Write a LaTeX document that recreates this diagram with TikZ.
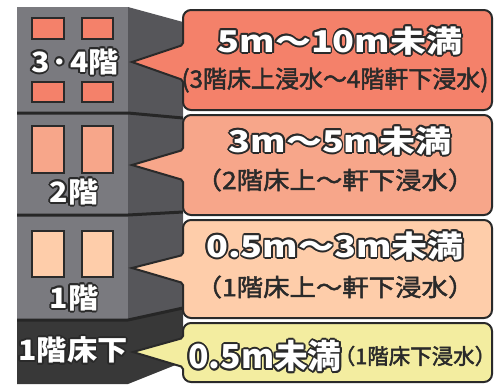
\documentclass[tikz,border=0pt]{standalone}
\usepackage{fontspec}
\setmainfont{Noto Sans CJK JP}
\newfontfamily\ttlfont[FakeStretch=1.2]{Noto Sans CJK JP}
\newfontfamily\tdfont[FakeStretch=1.02]{Noto Sans CJK JP}
\newfontfamily\bldfont[FakeStretch=1.08]{Noto Sans CJK JP}
\newfontfamily\subfont[FakeBold=2]{Noto Sans CJK JP}
\newfontfamily\subfontw[FakeStretch=1.1, FakeBold=2]{Noto Sans CJK JP}
\definecolor{front}{HTML}{7A7A7F}
\definecolor{side}{HTML}{56565A}
\definecolor{base}{HTML}{383838}
\definecolor{ink}{HTML}{2A2A2A}
\definecolor{cA}{HTML}{F4816A}
\definecolor{cB}{HTML}{F7A68A}
\definecolor{cC}{HTML}{FECDAA}
\definecolor{cD}{HTML}{F3EDA0}
\newlength\olw \setlength\olw{1.7pt}
\newlength\oltmp
% white text with a dark outline
\newcommand\outl[1]{%
  \settowidth\oltmp{#1}%
  \hbox to \oltmp{%
    \foreach \a in {0,30,...,330}{%
      \pgfmathsetlengthmacro\dx{\olw*cos(\a)}%
      \pgfmathsetlengthmacro\dy{\olw*sin(\a)}%
      \rlap{\hskip\dx\raisebox{\dy}{\color{ink}#1}}}%
    \rlap{\color{white}#1}\hss}}
\tikzset{
  bub/.style={draw=ink, line width=2pt},
  win/.style={draw=ink, line width=2.4pt},
  floorline/.style={draw=black!85, line width=3pt},
  ttl/.style={inner sep=0pt, font=\ttlfont\fontsize{30}{30}\selectfont\bfseries},
  sub/.style={inner sep=0pt, text=ink, font=\subfontw\fontsize{24}{24}\selectfont},
  bld/.style={inner sep=0pt, font=\bldfont\fontsize{28}{28}\selectfont\bfseries},
}
\begin{document}
\begin{tikzpicture}[x=1pt,y=-1pt]
\useasboundingbox (0,0) rectangle (495,384);
% building
\fill[front] (17,7) rectangle (128,320);
\fill[side] (128,7) -- (183,22) -- (183,308) -- (128,320) -- cycle;
\fill[base] (17,320) -- (128,320) -- (183,308) -- (183,362) -- (128,384) -- (17,384) -- cycle;
\draw[floorline] (17,113) -- (128,113) -- (183,118);
\draw[floorline] (17,215) -- (128,215) -- (183,212);
\draw[floorline] (17,320) -- (128,320) -- (183,308);
% windows
\draw[win, fill=cA] (32,18) rectangle (64,39);
\draw[win, fill=cA] (82,18) rectangle (113,39);
\draw[win, fill=cA] (32,82) rectangle (64,102);
\draw[win, fill=cA] (82,82) rectangle (113,102);
\draw[win, fill=cB] (32,126) rectangle (64,173);
\draw[win, fill=cB] (82,126) rectangle (113,173);
\draw[win, fill=cC] (32,231) rectangle (64,277);
\draw[win, fill=cC] (82,231) rectangle (113,277);
\node[bld] (f34) at (75,62) {\outl{3\kern1pt·\kern1pt4階}};
\node[bld] (f2) at (74,192) {\outl{2階}};
\node[bld] (f1) at (74,298) {\outl{1階}};
\node[bld] (fb) at (73,350) {\outl{1階床下}};
% bubbles
\draw[bub, fill=cA] (132,62) [rounded corners=2pt] -- (183,45) [rounded corners=8pt] -- (183,10) -- (492,10) -- (492,110) -- (183,110) [rounded corners=2pt] -- (183,80) [sharp corners] -- cycle;
\draw[bub, fill=cB] (132,165) [rounded corners=2pt] -- (183,150) [rounded corners=8pt] -- (183,115) -- (492,115) -- (492,215) -- (183,215) [rounded corners=2pt] -- (183,180) [sharp corners] -- cycle;
\draw[bub, fill=cC] (132,268) [rounded corners=2pt] -- (183,255) [rounded corners=8pt] -- (183,220) -- (492,220) -- (492,318) -- (183,318) [rounded corners=2pt] -- (183,283) [sharp corners] -- cycle;
\draw[bub, fill=cD] (133,352) [rounded corners=2pt] -- (183,338) [rounded corners=8pt] -- (183,323) -- (492,323) -- (492,382) -- (183,382) [rounded corners=2pt] -- (183,367) [sharp corners] -- cycle;
% texts
\node[ttl] (t1) at (340,41) {\outl{5m〜10m未満}};
\node[sub, font=\subfont\fontsize{24}{24}\selectfont] (s1) at (335,80) {(3階床上浸水〜4階軒下浸水)};
\node[ttl] (t2) at (340,141) {\outl{3m〜5m未満}};
\node[sub] (s2) at (335,180) {（2階床上〜軒下浸水）};
\node[ttl] (t3) at (335,246) {\outl{0.5m〜3m未満}};
\node[sub] (s3) at (335,287) {（1階床上〜軒下浸水）};
\node[ttl, font=\tdfont\fontsize{33}{33}\selectfont\bfseries] (t4) at (265,356) {\outl{0.5m未満}};
\node[sub, font=\subfont\fontsize{21.5}{21.5}\selectfont] (s4) at (415,356) {（1階床下浸水）};
\end{tikzpicture}
\end{document}
